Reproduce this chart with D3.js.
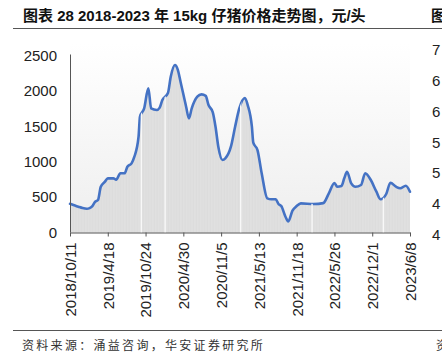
<!DOCTYPE html>
<html>
<head>
<meta charset="utf-8">
<script src="https://cdn.jsdelivr.net/npm/d3@7"></script>
<style>
body{margin:0;background:#fff;}
svg{display:block;}
</style>
</head>
<body>
<div id="chart"></div>
<script>

// weekly piglet price (15kg), yuan per head
var weekDates = ["2018-10-11","2018-11-01","2018-11-22","2018-12-13","2019-01-03","2019-01-17","2019-01-31","2019-02-14","2019-02-28","2019-03-14",
  "2019-04-04","2019-04-18","2019-05-16","2019-05-30","2019-06-20","2019-07-11","2019-07-25","2019-08-15","2019-08-29","2019-09-19",
  "2019-09-26","2019-10-17","2019-11-07","2019-11-21","2019-12-19","2020-01-02","2020-01-16","2020-02-13","2020-02-27","2020-03-19",
  "2020-04-02","2020-04-16","2020-05-14","2020-05-28","2020-06-11","2020-07-09","2020-07-30","2020-08-20","2020-09-03","2020-09-24",
  "2020-10-08","2020-10-22","2020-11-12","2020-11-26","2020-12-24","2021-01-14","2021-02-04","2021-03-04","2021-03-18","2021-04-08",
  "2021-04-15","2021-05-06","2021-05-27","2021-06-24","2021-07-15","2021-08-05","2021-08-19","2021-09-02","2021-09-23","2021-10-07",
  "2021-10-28","2021-11-18","2021-12-09","2022-02-10","2022-03-31","2022-04-28","2022-05-26","2022-06-09","2022-06-30","2022-07-14",
  "2022-07-28","2022-08-18","2022-09-08","2022-10-06","2022-10-27","2022-11-24","2022-12-22","2023-01-12","2023-02-09","2023-03-02",
  "2023-03-30","2023-04-20","2023-05-18","2023-06-08"];
var prices = [405,385,364,345,336,345,374,435,459,647,
  718,765,765,745,836,836,929,977,1070,1353,
  1635,1753,2036,1753,1730,1760,1871,1970,2200,2365,
  2300,2130,1777,1612,1753,1918,1951,1930,1800,1700,
  1494,1212,1024,1047,1212,1494,1753,1900,1800,1494,
  1268,1165,836,483,469,469,402,374,223,155,
  308,374,412,402,415,553,700,647,657,765,
  859,694,647,671,836,741,576,469,544,703,
  647,624,661,576];

var tickDates = ["2018-10-11","2019-04-18","2019-10-24","2020-04-30","2020-11-05",
  "2021-05-13","2021-11-18","2022-05-26","2022-12-01","2023-06-08"];
var yTicks = [0,500,1000,1500,2000,2500];
// weeks with no quote (holidays), shown as light gaps in the grey area
var holidayWeeks = ["2019-10-03","2020-01-30","2021-02-11","2022-02-03","2023-01-26"];
// cut-off axis of the neighbouring chart on the right
var neighbourLabels = ["7","6","6","5","5","4","4"];

var W = 442, H = 363;
var margin = {top: 55.5, right: 32, bottom: 130.5, left: 70};
var width = W - margin.left - margin.right,
    height = H - margin.top - margin.bottom;

var parse = d3.timeParse("%Y-%m-%d");
var fmt = d3.timeFormat("%Y/%-m/%-d");
var numFont = "'Liberation Sans', Arial, sans-serif";
var cjkFont = "'Liberation Sans', 'Noto Sans CJK SC', sans-serif";

var data = [];
for (var i = 0; i < weekDates.length; i++){
  data.push({date: parse(weekDates[i]), value: prices[i]});
}

var svg = d3.select("#chart").append("svg")
  .attr("width", W).attr("height", H);

var defs = svg.append("defs");
var grad = defs.append("linearGradient").attr("id","bg")
  .attr("x1",0).attr("y1",0).attr("x2",0).attr("y2",1);
grad.append("stop").attr("offset","0%").attr("stop-color","#ffffff");
grad.append("stop").attr("offset","100%").attr("stop-color","#eeeeee");

var x = d3.scaleTime()
  .domain([parse(tickDates[0]), parse(tickDates[tickDates.length-1])])
  .range([0, width]);
var y = d3.scaleLinear().domain([0, 2500]).range([height, 0]);

var weekW = x(parse("2018-10-18")) - x(parse("2018-10-11"));

var pat = defs.append("pattern").attr("id","stripes")
  .attr("patternUnits","userSpaceOnUse")
  .attr("x", margin.left).attr("y", 0)
  .attr("width", weekW * 2).attr("height", 10);
pat.append("rect").attr("width", weekW * 2).attr("height", 10).attr("fill","#dcdcdc");
pat.append("rect").attr("x", weekW).attr("width", weekW * 0.6).attr("height", 10).attr("fill","#e4e4e4");

// title
svg.append("text")
  .attr("x", 23).attr("y", 21)
  .attr("font-family", cjkFont)
  .attr("font-weight", "bold")
  .attr("font-size", "15px")
  .attr("fill", "#111")
  .text("图表 28 2018-2023 年 15kg 仔猪价格走势图，元/头");
svg.append("text")
  .attr("x", 431).attr("y", 21)
  .attr("font-family", cjkFont)
  .attr("font-weight", "bold")
  .attr("font-size", "15px")
  .attr("fill", "#111")
  .text("图");

svg.append("line").attr("x1", 13).attr("x2", W).attr("y1", 28.5).attr("y2", 28.5)
  .attr("stroke", "#555").attr("stroke-width", 1);
svg.append("line").attr("x1", 13).attr("x2", W).attr("y1", 330.5).attr("y2", 330.5)
  .attr("stroke", "#555").attr("stroke-width", 1);

svg.append("text")
  .attr("x", 22).attr("y", 350)
  .attr("font-family", "'Noto Sans CJK SC', sans-serif")
  .attr("font-size", "12px")
  .attr("letter-spacing", "2.3px")
  .attr("fill", "#333")
  .text("资料来源：涌益咨询，华安证券研究所");
svg.append("text")
  .attr("x", 436).attr("y", 350)
  .attr("font-family", "'Noto Sans CJK SC', sans-serif")
  .attr("font-size", "12px")
  .attr("fill", "#333")
  .text("资");

// neighbour chart axis labels (cut off by the page edge)
svg.selectAll(".nb").data(neighbourLabels).enter().append("text")
  .attr("class","nb")
  .attr("x", 432)
  .attr("y", function(d,i){ return 50 + i * 30.8; })
  .attr("dy", "0.35em")
  .attr("font-family", numFont)
  .attr("font-size", "15px")
  .attr("fill", "#222")
  .text(function(d){ return d; });

var g = svg.append("g")
  .attr("transform", "translate(" + margin.left + "," + margin.top + ")");

g.append("rect")
  .attr("x", 0).attr("y", -12)
  .attr("width", width).attr("height", height + 12)
  .attr("fill", "url(#bg)");

var area = d3.area()
  .curve(d3.curveMonotoneX)
  .x(function(d){ return x(d.date); })
  .y0(height)
  .y1(function(d){ return y(d.value); });

var line = d3.line()
  .curve(d3.curveMonotoneX)
  .x(function(d){ return x(d.date); })
  .y(function(d){ return y(d.value); });

defs.append("clipPath").attr("id","areaClip")
  .append("path").datum(data)
  .attr("transform", "translate(" + margin.left + "," + margin.top + ")")
  .attr("d", area);

g.append("path").datum(data)
  .attr("fill", "url(#stripes)")
  .attr("d", area);

svg.append("g")
  .attr("clip-path", "url(#areaClip)")
  .selectAll("rect").data(holidayWeeks).enter().append("rect")
  .attr("x", function(d){ return margin.left + x(parse(d)) - weekW / 2; })
  .attr("y", margin.top)
  .attr("width", weekW)
  .attr("height", height)
  .attr("fill", "#f8f8f8");

g.append("path").datum(data)
  .attr("fill", "none")
  .attr("stroke", "#4472c4")
  .attr("stroke-width", 2.6)
  .attr("stroke-linejoin", "round")
  .attr("stroke-linecap", "round")
  .attr("d", line);

// y axis
var yAxis = g.append("g")
  .call(d3.axisLeft(y).tickValues(yTicks).tickFormat(d3.format("d")).tickSize(0).tickPadding(13));
yAxis.select(".domain").attr("stroke", "#555").attr("d", "M0.5,-1V" + height);
yAxis.selectAll("text")
  .attr("font-family", numFont)
  .attr("font-size", "15px")
  .attr("fill", "#222");

// x axis
var xAxis = g.append("g")
  .attr("transform", "translate(0," + height + ")")
  .call(d3.axisBottom(x).tickValues(tickDates.map(parse)).tickFormat(fmt).tickSize(4).tickSizeOuter(0));
xAxis.select(".domain").attr("stroke", "#555");
xAxis.selectAll(".tick line").attr("stroke", "#555");
xAxis.selectAll("text")
  .attr("font-family", numFont)
  .attr("font-size", "15px")
  .attr("fill", "#222")
  .attr("text-anchor", "end")
  .attr("transform", "translate(0,10) rotate(-90)")
  .attr("x", 0).attr("y", 0)
  .attr("dy", "0.36em");

</script>
</body>
</html>
